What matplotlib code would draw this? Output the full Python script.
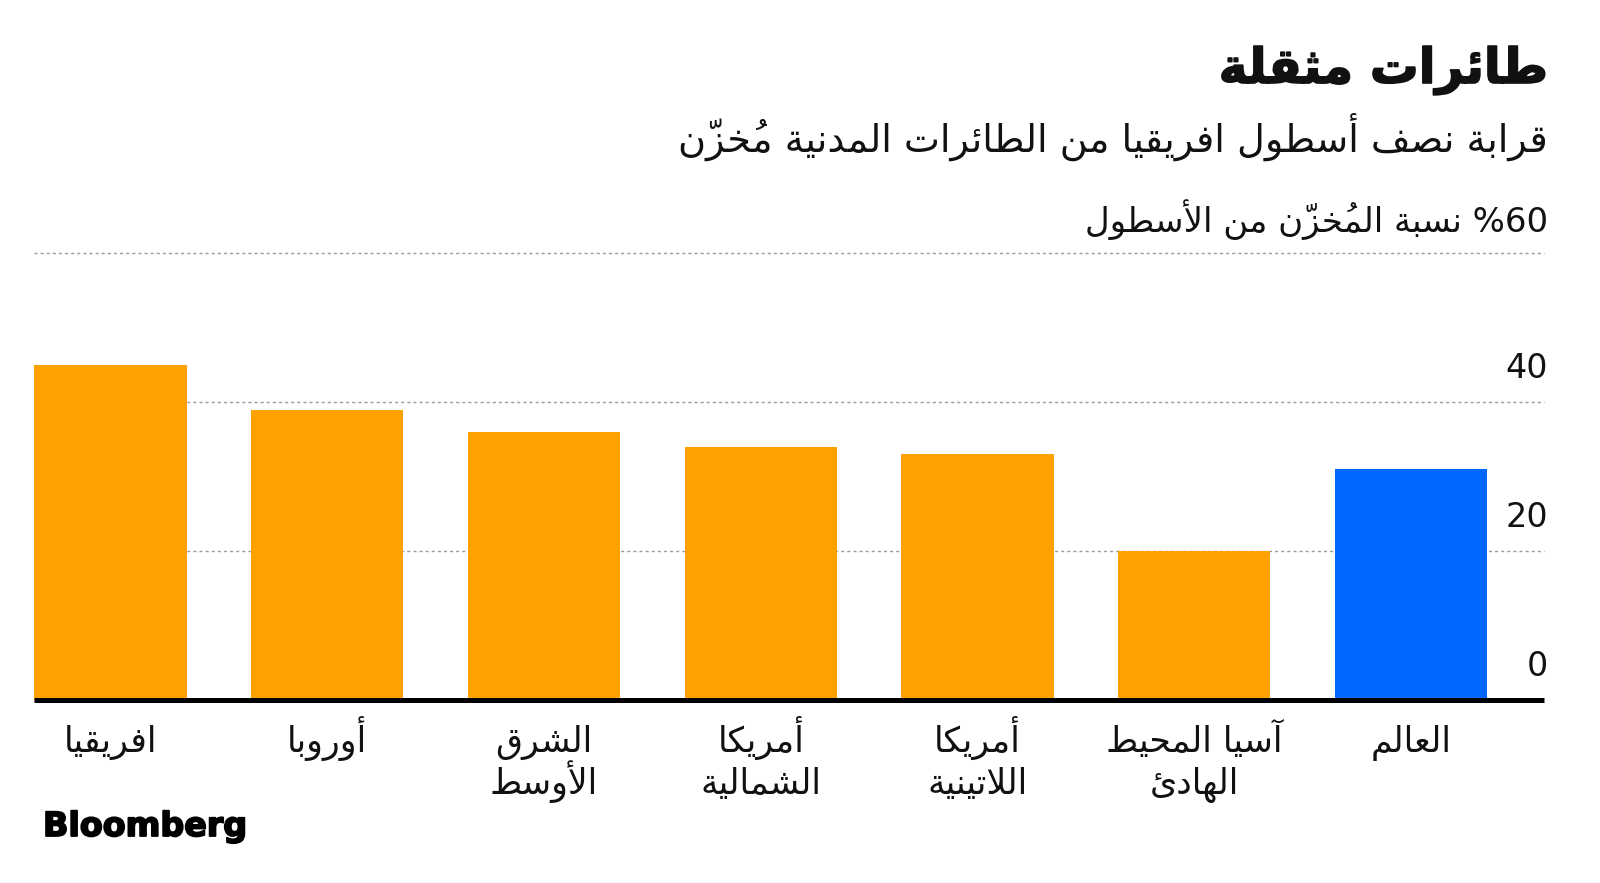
import matplotlib
matplotlib.use("Agg")
import matplotlib.pyplot as plt
from matplotlib import transforms
import matplotlib.patheffects as pe

# ---------------- data ----------------
categories = ["افريقيا", "أوروبا", "الشرق\nالأوسط", "أمريكا\nالشمالية",
              "أمريكا\nاللاتينية", "آسيا المحيط\nالهادئ", "العالم"]
values = [44.9, 38.8, 35.9, 33.9, 32.9, 20.0, 30.9]
highlight = [False, False, False, False, False, False, True]
yticks = [0, 20, 40]
title = "طائرات مثقلة"
subtitle = "قرابة نصف أسطول افريقيا من الطائرات المدنية مُخزّن"
unit_label = "نسبة المُخزّن من الأسطول"
top_tick = "%60"

# ---------------- minimal Arabic shaping (presentation forms + visual order) ----------------
RIGHT = {'\u0622': 0xFE81, '\u0623': 0xFE83, '\u0624': 0xFE85, '\u0625': 0xFE87,
         '\u0627': 0xFE8D, '\u0629': 0xFE93, '\u062F': 0xFEA9, '\u0630': 0xFEAB,
         '\u0631': 0xFEAD, '\u0632': 0xFEAF, '\u0648': 0xFEED, '\u0649': 0xFEEF}
DUAL = {'\u0626': 0xFE89, '\u0628': 0xFE8F, '\u062A': 0xFE95, '\u062B': 0xFE99,
        '\u062C': 0xFE9D, '\u062D': 0xFEA1, '\u062E': 0xFEA5, '\u0633': 0xFEB1,
        '\u0634': 0xFEB5, '\u0635': 0xFEB9, '\u0636': 0xFEBD, '\u0637': 0xFEC1,
        '\u0638': 0xFEC5, '\u0639': 0xFEC9, '\u063A': 0xFECD, '\u0641': 0xFED1,
        '\u0642': 0xFED5, '\u0643': 0xFED9, '\u0644': 0xFEDD, '\u0645': 0xFEE1,
        '\u0646': 0xFEE5, '\u0647': 0xFEE9, '\u064A': 0xFEF1}
NONJ = {'\u0621': 0xFE80}
LAMALEF = {'\u0622': 0xFEF5, '\u0623': 0xFEF7, '\u0625': 0xFEF9, '\u0627': 0xFEFB}


def _jt(b):
    if b.startswith('LA') and len(b) == 3:
        return 'R'
    if b in DUAL:
        return 'D'
    if b in RIGHT:
        return 'R'
    if b in NONJ:
        return 'U'
    return None


def shape_line(s):
    cl = []
    for ch in s:
        if '\u064B' <= ch <= '\u0652' and cl:
            cl[-1][1] += ch
        else:
            cl.append([ch, ''])
    mg = []
    i = 0
    while i < len(cl):
        b, m = cl[i]
        if b == '\u0644' and i + 1 < len(cl) and cl[i + 1][0] in LAMALEF:
            mg.append(['LA' + cl[i + 1][0], m + cl[i + 1][1]])
            i += 2
        else:
            mg.append([b, m])
            i += 1
    glyphs = []
    for i, (b, m) in enumerate(mg):
        t = _jt(b)
        if t is None:
            glyphs.append((b, m, False))
            continue
        if t == 'U':
            glyphs.append((chr(NONJ[b]), m, True))
            continue
        pt = _jt(mg[i - 1][0]) if i > 0 else None
        nt = _jt(mg[i + 1][0]) if i + 1 < len(mg) else None
        jp = pt == 'D'
        jn = t == 'D' and nt in ('D', 'R')
        if b.startswith('LA') and len(b) == 3:
            g = chr(LAMALEF[b[2]] + (1 if jp else 0))
        elif t == 'R':
            g = chr(RIGHT[b] + (1 if jp else 0))
        else:
            idx = 3 if (jp and jn) else 1 if jp else 2 if jn else 0
            g = chr(DUAL[b] + idx)
        glyphs.append((g, m, True))
    tokens = []
    for g, m, isar in glyphs:
        ltr = (not isar) and g != ' '
        if ltr and tokens and tokens[-1][0]:
            tokens[-1][1].append(g)
        else:
            # combining mark placed before its base so it lands over it
            tokens.append((ltr, [m + g]))
    return ''.join(''.join(tk[1]) for tk in reversed(tokens))


def ar(s):
    return '\n'.join(shape_line(line) for line in s.split('\n'))


# ---------------- figure ----------------
plt.rcParams['font.family'] = ['DejaVu Sans']
INK = '#111111'
fig = plt.figure(figsize=(16, 8.83), dpi=100)
ax = fig.add_axes([0.0214, 0.2078, 0.965 - 0.0214, 0.714 - 0.2078])

ORANGE = '#FFA100'
BLUE = '#0068FF'
x = list(range(len(values)))
colors = [BLUE if h else ORANGE for h in highlight]
ax.bar(x, values, width=0.703, color=colors, zorder=2)

ax.set_xlim(-0.352, len(values) - 1 + 0.614)
ax.set_ylim(0, 60)

for v in [20, 40, 60]:
    ax.axhline(v, color='#9a9a9a', lw=1.0, ls=(0, (2.2, 2.2)), zorder=1,
               clip_on=False)
ax.axhline(0, color='black', lw=3.6, zorder=3, solid_capstyle='butt',
           clip_on=False)

for s in ax.spines.values():
    s.set_visible(False)
ax.set_xticks([])
ax.set_yticks([])

# category labels, line by line with fixed baselines
xtrans = transforms.blended_transform_factory(ax.transData, ax.transAxes)
for xi, cat in zip(x, categories):
    for li, line in enumerate(cat.split('\n')):
        tr = transforms.offset_copy(xtrans, fig=fig, x=0, y=-37.8 - 30.0 * li,
                                    units='points')
        ax.text(xi, 0, ar(line), transform=tr, ha='center', va='baseline',
                fontsize=25, color=INK, clip_on=False)

trans = transforms.blended_transform_factory(ax.transAxes, ax.transData)
toff = transforms.offset_copy(trans, fig=fig, x=0, y=17.2, units='points')
for t in yticks:
    ax.text(1.0026, t, str(t), transform=toff, ha='right', va='baseline',
            fontsize=24, color=INK)
toff60 = transforms.offset_copy(trans, fig=fig, x=0, y=14.8, units='points')
ax.text(1.0026, 60, ar(unit_label) + ' ' + top_tick, transform=toff60, ha='right',
        va='baseline', fontsize=24.5, color=INK, clip_on=False)

fig.text(0.9675, 1 - 83 / 883, ar(title), ha='right', va='baseline', fontsize=35,
         fontweight='bold', color=INK,
         path_effects=[pe.withStroke(linewidth=1.2, foreground=INK)])
fig.text(0.9675, 1 - 152 / 883, ar(subtitle), ha='right', va='baseline',
         fontsize=27.5, color=INK)
fig.text(43 / 1600, 1 - 836 / 883, 'Bloomberg', ha='left', va='baseline',
         fontsize=24, fontweight='bold', family='DejaVu Sans', color='black',
         path_effects=[pe.withStroke(linewidth=1.3, foreground='black')])

fig.savefig('out.png', dpi=100, facecolor='white')
